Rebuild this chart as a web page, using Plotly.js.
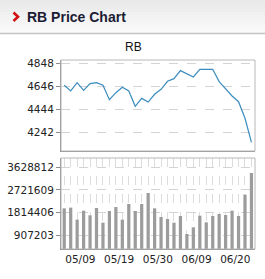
<!DOCTYPE html>
<html><head><meta charset="utf-8">
<script src="https://cdn.plot.ly/plotly-3.0.1.min.js"></script>
<style>html,body{margin:0;padding:0;background:#fff;}#chart{width:265px;height:279px;}</style>
</head><body><div id="chart"></div>
<script>
// ---- data ----
const dayIndex = [0,1,2,3,4,5,6,7,8,9,10,11,12,13,14,15,16,17,18,19,20,21,22,23,24,25,26,27,28,29];
const closePrice = [4655,4605,4678,4611,4670,4678,4655,4529,4590,4637,4605,4470,4540,4508,4576,4620,4690,4713,4784,4754,4728,4795,4795,4795,4687,4620,4561,4511,4365,4154];
const volume = [1979763,2006577,1523925,1885914,1698215,1992170,1403262,1872507,2033391,1523925,2154054,1872507,2154054,2596485,1979763,1631181,1550739,1403262,1671402,947424,1215564,1684809,1416669,1671402,1751844,1711623,1885914,1671402,2529450,3400905];
const xTickVals = [2.5,8.5,14.5,20.5,26.5];
const xTickText = ['05/09','05/19','05/30','06/09','06/20'];
const priceTicks = [4242,4444,4646,4848];
const volTicks = [907203,1814406,2721609,3628812];

const W=265,H=279;
const px = v => v/W, py = v => 1 - v/H;

// header gradient stripes
const shapes = [];
const top0=[233,233,233], bot0=[250,250,250];
const n=11;
for(let i=0;i<n;i++){
  const t=i/(n-1);
  const c=top0.map((a,k)=>Math.round(a+(bot0[k]-a)*t));
  shapes.push({type:'rect',xref:'paper',yref:'paper',x0:0,x1:1,y0:py(33*(i+1)/n),y1:py(33*i/n),
    fillcolor:`rgb(${c.join(',')})`,line:{width:0},layer:'below'});
}
shapes.push({type:'line',xref:'paper',yref:'paper',x0:0,x1:1,y0:py(33.5),y1:py(33.5),line:{color:'#c4c4c4',width:1.5}});
// red chevron
shapes.push({type:'path',xref:'paper',yref:'paper',
  path:`M ${px(13.5)} ${py(12.5)} L ${px(18)} ${py(16.8)} L ${px(13.5)} ${py(21)}`,
  line:{color:'#d01010',width:2.6}});
// frames (light top/right)
const frames=[[60,151],[158,249]];
frames.forEach(([t,b])=>{
  shapes.push({type:'rect',xref:'paper',yref:'paper',x0:px(61),x1:px(255),y0:py(b),y1:py(t),line:{color:'#b8b8b8',width:1},fillcolor:'rgba(0,0,0,0)'});
});

const tickFont={family:'DejaVu Sans',size:10.5,color:'#222'};
const common={range:[-0.5,29.55],fixedrange:true,zeroline:false};

const layout={
  width:W,height:H,margin:{l:0,r:0,t:0,b:0},
  paper_bgcolor:'#fff',plot_bgcolor:'#fff',showlegend:false,bargap:0.5,
  shapes:shapes,
  annotations:[
    {text:'RB Price Chart',xref:'paper',yref:'paper',x:px(24.5),y:py(17),xanchor:'left',yanchor:'middle',showarrow:false,
     font:{family:'Liberation Sans',size:14,color:'#1c1c34',weight:'bold'}},
    {text:'RB',xref:'paper',yref:'paper',x:px(133),y:py(47),xanchor:'center',yanchor:'middle',showarrow:false,
     font:{family:'Liberation Sans',size:12,color:'#111'}}
  ],
  xaxis:Object.assign({},common,{domain:[px(61),px(255)],anchor:'y',showticklabels:false,ticks:'',showgrid:false,
    showline:true,linecolor:'#8c8c8c',linewidth:1}),
  yaxis:{domain:[py(151),py(60)],anchor:'x',range:[4078,4877],tickvals:priceTicks,ticktext:priceTicks.map(String),
    ticks:'outside',ticklen:4,tickcolor:'#8c8c8c',tickfont:tickFont,showgrid:true,gridcolor:'#d4d4d4',griddash:'dash',
    showline:true,linecolor:'#8c8c8c',linewidth:1,zeroline:false,fixedrange:true},
  xaxis2:Object.assign({},common,{domain:[px(61),px(255)],anchor:'y2',tickmode:'array',tickvals:xTickVals,ticktext:xTickText,
    ticks:'',tickfont:tickFont,showgrid:false,showline:true,linecolor:'#8c8c8c',linewidth:1,
    minor:{tickmode:'array',tickvals:dayIndex,showgrid:true,gridcolor:'#dcdcdc',griddash:'dash',ticks:''}}),
  yaxis2:{domain:[py(249),py(158)],anchor:'x2',range:[344389,4002681],tickvals:volTicks,ticktext:volTicks.map(String),
    ticks:'outside',ticklen:4,tickcolor:'#8c8c8c',tickfont:tickFont,showgrid:true,gridcolor:'#d4d4d4',griddash:'dash',
    showline:true,linecolor:'#8c8c8c',linewidth:1,zeroline:false,fixedrange:true}
};

const data=[
  {type:'scatter',mode:'lines',x:dayIndex,y:closePrice,xaxis:'x',yaxis:'y',line:{color:'#3b8cbf',width:1.2},hoverinfo:'skip'},
  {type:'bar',x:dayIndex,y:volume,xaxis:'x2',yaxis:'y2',marker:{color:'#9c9c9c',line:{width:0}},width:0.5,hoverinfo:'skip'}
];
Plotly.newPlot('chart',data,layout,{staticPlot:true,displayModeBar:false});
</script></body></html>
